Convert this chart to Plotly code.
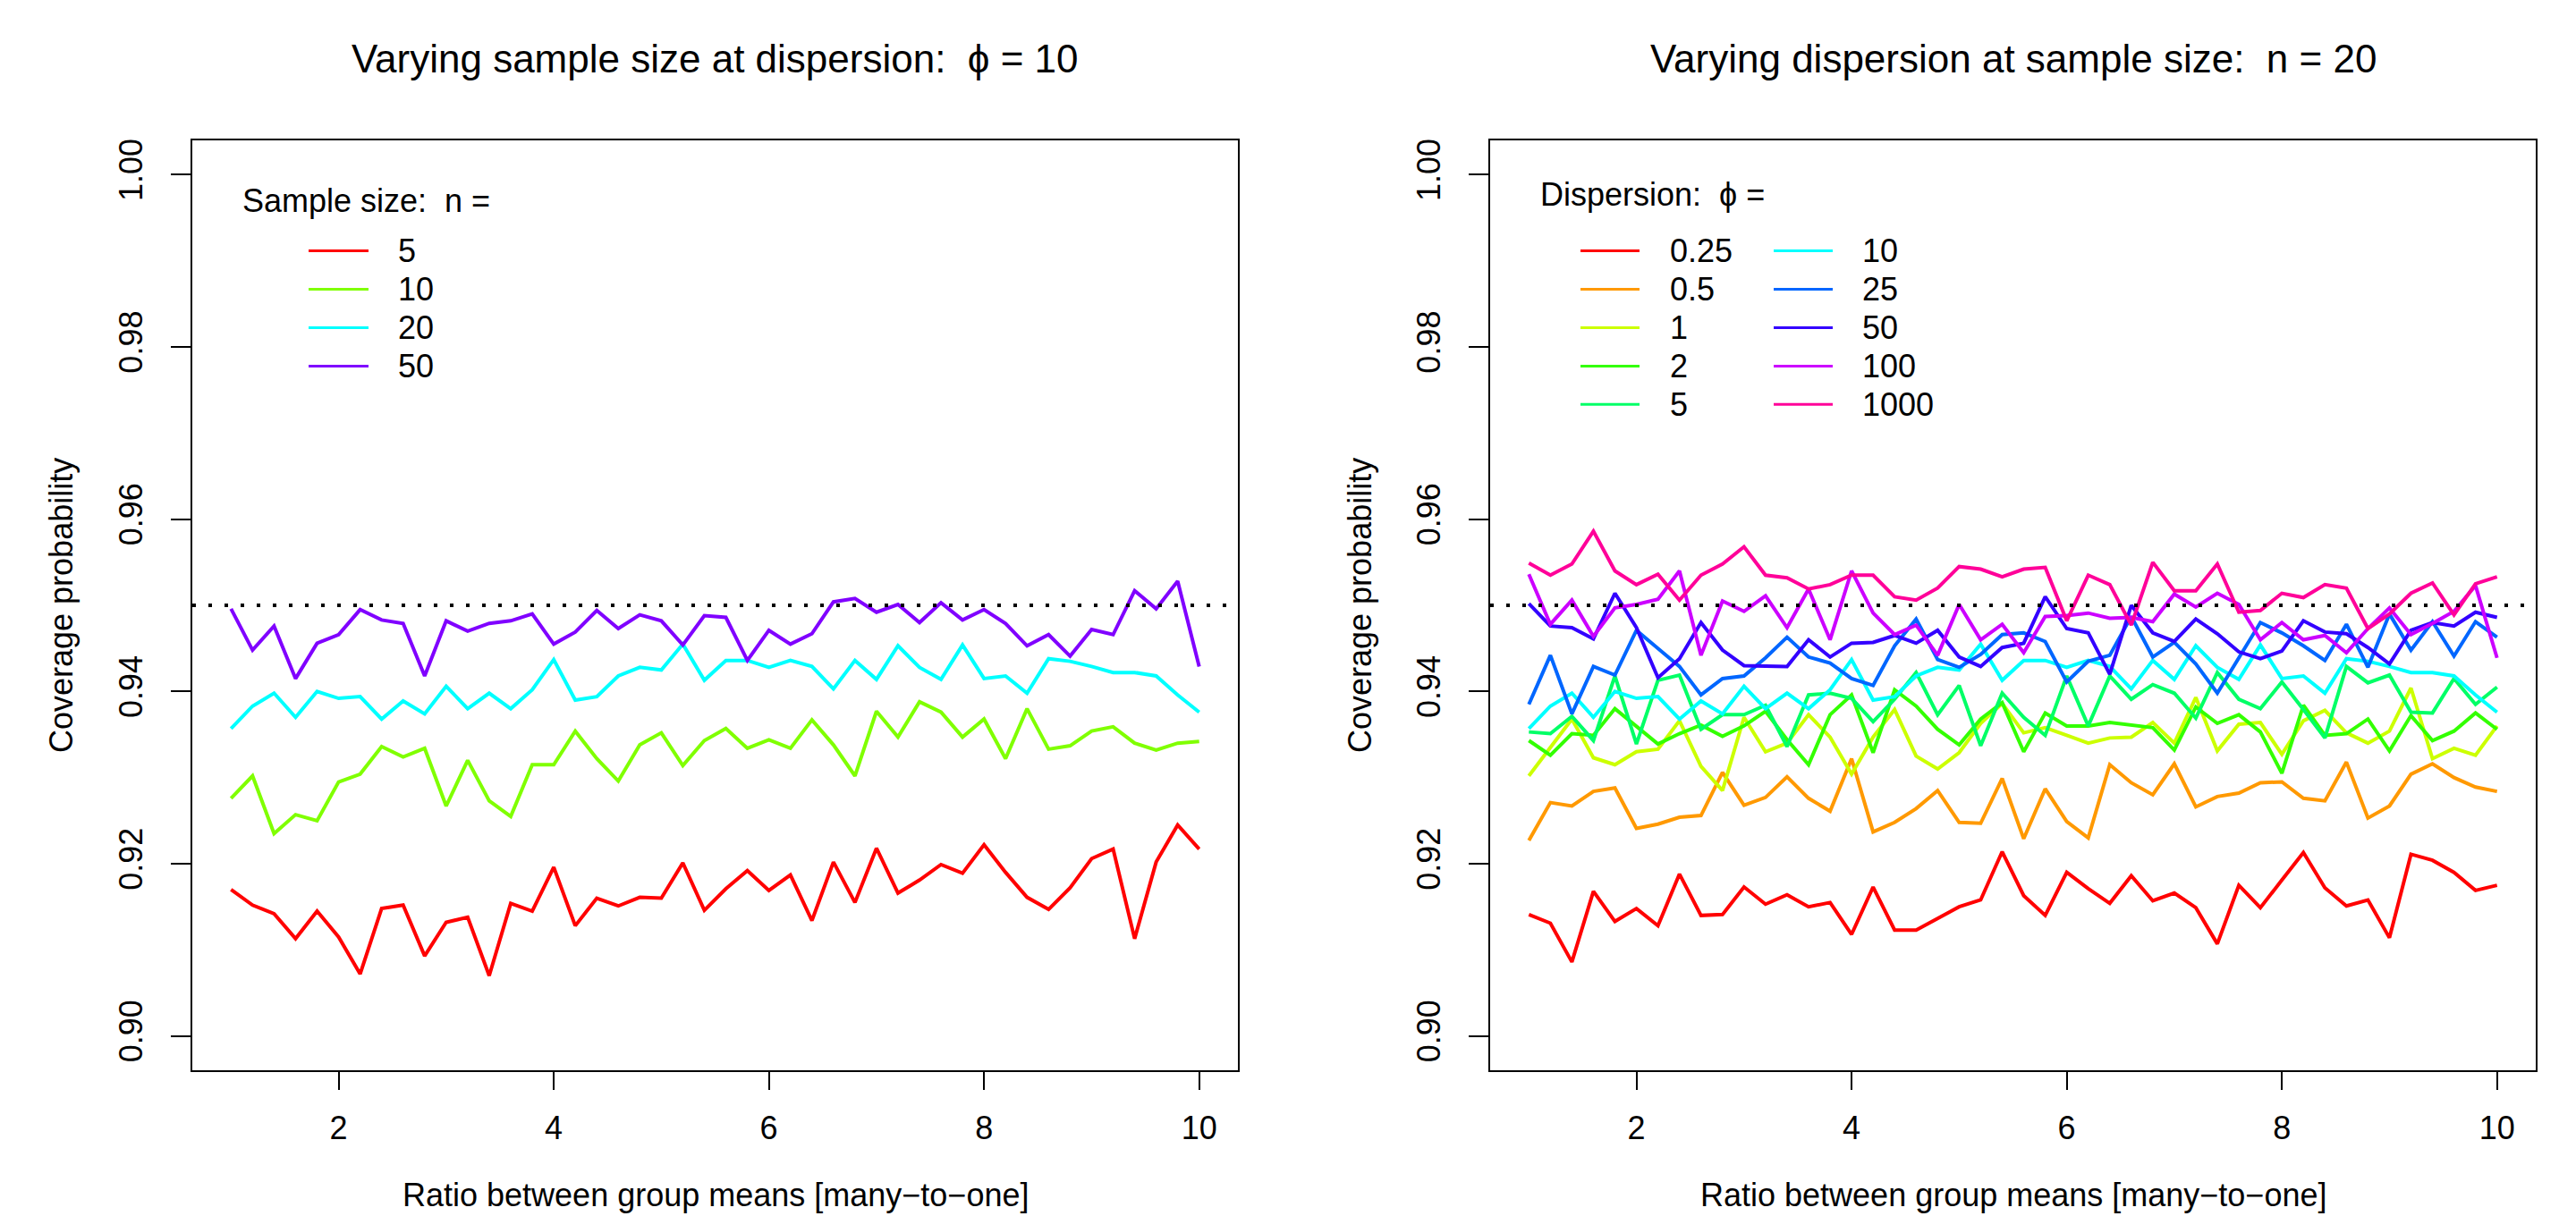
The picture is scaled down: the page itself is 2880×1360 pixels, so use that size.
import plotly.graph_objects as go

W, H = 2880, 1360

ratio = [1.0, 1.2, 1.4, 1.6, 1.8, 2.0, 2.2, 2.4, 2.6, 2.8, 3.0, 3.2, 3.4, 3.6, 3.8, 4.0,
         4.2, 4.4, 4.6, 4.8, 5.0, 5.2, 5.4, 5.6, 5.8, 6.0, 6.2, 6.4, 6.6, 6.8, 7.0, 7.2,
         7.4, 7.6, 7.8, 8.0, 8.2, 8.4, 8.6, 8.8, 9.0, 9.2, 9.4, 9.6, 9.8, 10.0]

# ---- Left panel: varying sample size at dispersion phi = 10
n_labels = ["5", "10", "20", "50"]
n_colors = ["#FF0000", "#80FF00", "#00FFFF", "#8000FF"]
cov_n5 = [0.9170, 0.9152, 0.9142, 0.9113, 0.9145, 0.9115, 0.9072, 0.9148, 0.9152, 0.9093,
          0.9132, 0.9138, 0.9070, 0.9154, 0.9145, 0.9196, 0.9128, 0.9160, 0.9151, 0.9161,
          0.9160, 0.9201, 0.9146, 0.9171, 0.9192, 0.9169, 0.9187, 0.9134, 0.9202, 0.9155,
          0.9218, 0.9166, 0.9181, 0.9199, 0.9189, 0.9222, 0.9190, 0.9161, 0.9147, 0.9172,
          0.9206, 0.9217, 0.9113, 0.9202, 0.9245, 0.9217]
cov_n10 = [0.9276, 0.9302, 0.9235, 0.9257, 0.9250, 0.9295, 0.9304, 0.9336, 0.9324, 0.9334,
           0.9267, 0.9320, 0.9273, 0.9255, 0.9315, 0.9315, 0.9354, 0.9322, 0.9296, 0.9338,
           0.9352, 0.9314, 0.9343, 0.9357, 0.9334, 0.9344, 0.9334, 0.9367, 0.9338, 0.9302,
           0.9377, 0.9347, 0.9388, 0.9376, 0.9347, 0.9368, 0.9322, 0.9380, 0.9333, 0.9337,
           0.9354, 0.9359, 0.9340, 0.9332, 0.9340, 0.9342]
cov_n20 = [0.9357, 0.9383, 0.9398, 0.9370, 0.9400, 0.9392, 0.9394, 0.9368, 0.9389, 0.9374,
           0.9406, 0.9380, 0.9398, 0.9380, 0.9402, 0.9437, 0.9390, 0.9394, 0.9418, 0.9428,
           0.9425, 0.9455, 0.9413, 0.9436, 0.9436, 0.9428, 0.9436, 0.9429, 0.9403, 0.9436,
           0.9414, 0.9453, 0.9428, 0.9414, 0.9454, 0.9415, 0.9418, 0.9398, 0.9438, 0.9435,
           0.9429, 0.9422, 0.9422, 0.9418, 0.9396, 0.9376]
cov_n50 = [0.9496, 0.9448, 0.9476, 0.9415, 0.9456, 0.9466, 0.9495, 0.9483, 0.9479, 0.9418,
           0.9482, 0.9470, 0.9479, 0.9482, 0.9490, 0.9455, 0.9469, 0.9494, 0.9473, 0.9489,
           0.9482, 0.9454, 0.9488, 0.9486, 0.9436, 0.9471, 0.9455, 0.9467, 0.9504, 0.9508,
           0.9492, 0.9501, 0.9480, 0.9503, 0.9483, 0.9495, 0.9479, 0.9453, 0.9466, 0.9441,
           0.9472, 0.9466, 0.9517, 0.9496, 0.9528, 0.9429]

# ---- Right panel: varying dispersion at sample size n = 20
phi_labels = ["0.25", "0.5", "1", "2", "5", "10", "25", "50", "100", "1000"]
phi_colors = ["#FF0000", "#FF9900", "#CCFF00", "#33FF00", "#00FF66",
              "#00FFFF", "#0066FF", "#3300FF", "#CC00FF", "#FF0099"]
cov_phi025 = [0.9141, 0.9131, 0.9086, 0.9168, 0.9133, 0.9148, 0.9128, 0.9188, 0.9140, 0.9141,
              0.9173, 0.9153, 0.9164, 0.9150, 0.9155, 0.9118, 0.9173, 0.9123, 0.9123, 0.9137,
              0.9150, 0.9158, 0.9214, 0.9163, 0.9140, 0.9190, 0.9171, 0.9154, 0.9186, 0.9157,
              0.9166, 0.9149, 0.9107, 0.9175, 0.9149, 0.9181, 0.9213, 0.9172, 0.9151, 0.9158,
              0.9114, 0.9211, 0.9204, 0.9190, 0.9169, 0.9175]
cov_phi05 = [0.9227, 0.9271, 0.9267, 0.9284, 0.9288, 0.9241, 0.9246, 0.9254, 0.9256, 0.9306,
             0.9268, 0.9277, 0.9301, 0.9276, 0.9261, 0.9322, 0.9237, 0.9248, 0.9264, 0.9285,
             0.9248, 0.9247, 0.9299, 0.9229, 0.9287, 0.9249, 0.9230, 0.9315, 0.9294, 0.9280,
             0.9316, 0.9266, 0.9278, 0.9282, 0.9294, 0.9295, 0.9276, 0.9273, 0.9318, 0.9253,
             0.9267, 0.9304, 0.9316, 0.9300, 0.9289, 0.9284]
cov_phi1 = [0.9302, 0.9335, 0.9368, 0.9323, 0.9315, 0.9330, 0.9333, 0.9366, 0.9313, 0.9285,
            0.9370, 0.9330, 0.9340, 0.9373, 0.9347, 0.9304, 0.9347, 0.9379, 0.9325, 0.9310,
            0.9329, 0.9363, 0.9386, 0.9352, 0.9358, 0.9349, 0.9340, 0.9346, 0.9347, 0.9364,
            0.9340, 0.9393, 0.9331, 0.9362, 0.9364, 0.9327, 0.9366, 0.9378, 0.9352, 0.9340,
            0.9354, 0.9404, 0.9322, 0.9334, 0.9326, 0.9360]
cov_phi2 = [0.9343, 0.9326, 0.9351, 0.9349, 0.9380, 0.9360, 0.9339, 0.9351, 0.9361, 0.9348,
            0.9360, 0.9377, 0.9344, 0.9315, 0.9373, 0.9396, 0.9329, 0.9402, 0.9383, 0.9356,
            0.9338, 0.9368, 0.9387, 0.9330, 0.9375, 0.9360, 0.9360, 0.9364, 0.9361, 0.9358,
            0.9332, 0.9382, 0.9363, 0.9373, 0.9353, 0.9305, 0.9384, 0.9349, 0.9351, 0.9368,
            0.9331, 0.9372, 0.9343, 0.9354, 0.9375, 0.9356]
cov_phi5 = [0.9353, 0.9351, 0.9371, 0.9343, 0.9418, 0.9339, 0.9413, 0.9419, 0.9356, 0.9373,
            0.9373, 0.9384, 0.9336, 0.9396, 0.9398, 0.9392, 0.9365, 0.9391, 0.9422, 0.9373,
            0.9407, 0.9337, 0.9398, 0.9370, 0.9349, 0.9418, 0.9360, 0.9418, 0.9391, 0.9408,
            0.9398, 0.9369, 0.9422, 0.9391, 0.9380, 0.9411, 0.9379, 0.9346, 0.9429, 0.9410,
            0.9419, 0.9376, 0.9375, 0.9415, 0.9385, 0.9405]
cov_phi10 = cov_n20  # same design point (n = 20, phi = 10)
cov_phi25 = [0.9385, 0.9442, 0.9374, 0.9429, 0.9419, 0.9471, 0.9450, 0.9429, 0.9396, 0.9415,
             0.9418, 0.9439, 0.9463, 0.9440, 0.9433, 0.9415, 0.9407, 0.9453, 0.9484, 0.9437,
             0.9428, 0.9443, 0.9466, 0.9468, 0.9458, 0.9411, 0.9435, 0.9442, 0.9487, 0.9440,
             0.9457, 0.9432, 0.9398, 0.9439, 0.9480, 0.9468, 0.9453, 0.9436, 0.9478, 0.9428,
             0.9490, 0.9448, 0.9481, 0.9441, 0.9481, 0.9463]
cov_phi50 = [0.9502, 0.9476, 0.9474, 0.9461, 0.9514, 0.9474, 0.9416, 0.9438, 0.9480, 0.9448,
             0.9430, 0.9430, 0.9429, 0.9460, 0.9440, 0.9456, 0.9457, 0.9465, 0.9456, 0.9471,
             0.9440, 0.9429, 0.9451, 0.9456, 0.9510, 0.9473, 0.9468, 0.9420, 0.9500, 0.9468,
             0.9458, 0.9484, 0.9467, 0.9446, 0.9438, 0.9447, 0.9482, 0.9469, 0.9467, 0.9451,
             0.9432, 0.9471, 0.9480, 0.9476, 0.9492, 0.9486]
cov_phi100 = [0.9536, 0.9478, 0.9506, 0.9464, 0.9497, 0.9501, 0.9507, 0.9540, 0.9442, 0.9505,
              0.9493, 0.9511, 0.9474, 0.9519, 0.9460, 0.9540, 0.9491, 0.9466, 0.9477, 0.9442,
              0.9501, 0.9460, 0.9478, 0.9445, 0.9487, 0.9488, 0.9491, 0.9485, 0.9486, 0.9481,
              0.9513, 0.9498, 0.9514, 0.9501, 0.9460, 0.9480, 0.9460, 0.9465, 0.9445, 0.9473,
              0.9497, 0.9466, 0.9479, 0.9493, 0.9523, 0.9439]
cov_phi1000 = [0.9549, 0.9535, 0.9548, 0.9586, 0.9540, 0.9524, 0.9536, 0.9506, 0.9535, 0.9548,
               0.9568, 0.9535, 0.9532, 0.9519, 0.9524, 0.9535, 0.9535, 0.9510, 0.9506, 0.9520,
               0.9545, 0.9542, 0.9533, 0.9542, 0.9544, 0.9482, 0.9535, 0.9524, 0.9477, 0.9550,
               0.9517, 0.9517, 0.9548, 0.9492, 0.9494, 0.9514, 0.9509, 0.9524, 0.9520, 0.9473,
               0.9490, 0.9514, 0.9526, 0.9489, 0.9525, 0.9533]

nominal = 0.95
y_ticks = [0.90, 0.92, 0.94, 0.96, 0.98, 1.00]
x_ticks = [2, 4, 6, 8, 10]

left_series = [cov_n5, cov_n10, cov_n20, cov_n50]
right_series = [cov_phi025, cov_phi05, cov_phi1, cov_phi2, cov_phi5,
                cov_phi10, cov_phi25, cov_phi50, cov_phi100, cov_phi1000]

FONT = "Liberation Sans, Arial, Helvetica, sans-serif"
LW = 4
LEG_LW = 3

fig = go.Figure()
for lab, col, ys in zip(n_labels, n_colors, left_series):
    fig.add_trace(go.Scatter(x=ratio, y=ys, mode="lines", name=lab,
                             line=dict(color=col, width=LW), xaxis="x", yaxis="y",
                             showlegend=False))
for lab, col, ys in zip(phi_labels, phi_colors, right_series):
    fig.add_trace(go.Scatter(x=ratio, y=ys, mode="lines", name=lab,
                             line=dict(color=col, width=LW), xaxis="x2", yaxis="y2",
                             showlegend=False))

# plot-region geometry (pixels)
L1, R1 = 215, 1384
L2, R2 = 1666, 2835
TOP, BOT = 155, 1197


def px(x):
    return x / W


def py(y):
    return 1 - y / H


xaxis_common = dict(range=[0.64, 10.36], tickvals=x_ticks, ticks="outside", ticklen=20,
                    tickwidth=2, tickcolor="black", showgrid=False, zeroline=False,
                    showline=True, linecolor="black", linewidth=2, mirror=True,
                    tickfont=dict(family=FONT, size=36, color="black"),
                    ticklabelstandoff=12)
yaxis_common = dict(range=[0.896, 1.004], tickvals=y_ticks, tickformat=".2f",
                    ticks="outside", ticklen=22, tickwidth=2, tickcolor="black",
                    showgrid=False, zeroline=False, showline=True, linecolor="black",
                    linewidth=2, mirror=True, tickangle=-90,
                    tickfont=dict(family=FONT, size=36, color="black"),
                    ticklabelstandoff=18)

fig.update_layout(
    width=W, height=H, margin=dict(l=0, r=0, t=0, b=0),
    paper_bgcolor="white", plot_bgcolor="white", showlegend=False,
    font=dict(family=FONT, color="black"),
    xaxis=dict(domain=[px(L1), px(R1)], anchor="y", **xaxis_common),
    yaxis=dict(domain=[py(BOT), py(TOP)], anchor="x", **yaxis_common),
    xaxis2=dict(domain=[px(L2), px(R2)], anchor="y2", **xaxis_common),
    yaxis2=dict(domain=[py(BOT), py(TOP)], anchor="x2", **yaxis_common),
)

shapes = []
for xr, yr in (("x", "y"), ("x2", "y2")):
    shapes.append(dict(type="line", xref=f"{xr} domain", yref=yr, x0=0, x1=1,
                       y0=nominal, y1=nominal,
                       line=dict(color="black", width=4, dash="4px,14px")))

annotations = []


def text(x, y, s, size=36, xanchor="center", angle=0):
    annotations.append(dict(x=px(x), y=py(y), xref="paper", yref="paper", text=s,
                            showarrow=False, xanchor=xanchor, yanchor="middle",
                            textangle=angle,
                            font=dict(family=FONT, size=size, color="black")))


# titles
text((L1 + R1) / 2, 64, "Varying sample size at dispersion:  \u03d5 = 10", size=44)
text((L2 + R2) / 2, 64, "Varying dispersion at sample size:  n = 20", size=44)
# axis titles
text((L1 + R1) / 2, 1336, "Ratio between group means [many\u2212to\u2212one]")
text((L2 + R2) / 2, 1336, "Ratio between group means [many\u2212to\u2212one]")
text(68, (TOP + BOT) / 2, "Coverage probability", angle=-90)
text(1520, (TOP + BOT) / 2, "Coverage probability", angle=-90)

# legends
text(269, 223, "Sample size:  n =", xanchor="left")
rows = [279, 322, 365, 408, 451]
for i, (lab, col) in enumerate(zip(n_labels, n_colors)):
    shapes.append(dict(type="line", xref="paper", yref="paper", x0=px(345), x1=px(412),
                       y0=py(rows[i]), y1=py(rows[i]), line=dict(color=col, width=LEG_LW)))
    text(443, rows[i], lab, xanchor="left")

text(1720, 216, "Dispersion:  \u03d5 =", xanchor="left")
for i, (lab, col) in enumerate(zip(phi_labels, phi_colors)):
    c, r = divmod(i, 5)
    x0, x1, xt = (1767, 1833, 1865) if c == 0 else (1983, 2049, 2080)
    shapes.append(dict(type="line", xref="paper", yref="paper", x0=px(x0), x1=px(x1),
                       y0=py(rows[r]), y1=py(rows[r]), line=dict(color=col, width=LEG_LW)))
    text(xt, rows[r], lab, xanchor="left")

fig.update_layout(shapes=shapes, annotations=annotations)

fig.write_html("out.html", config={"displayModeBar": False},
               post_script="document.body.style.margin='0';document.body.style.overflow='hidden';")
